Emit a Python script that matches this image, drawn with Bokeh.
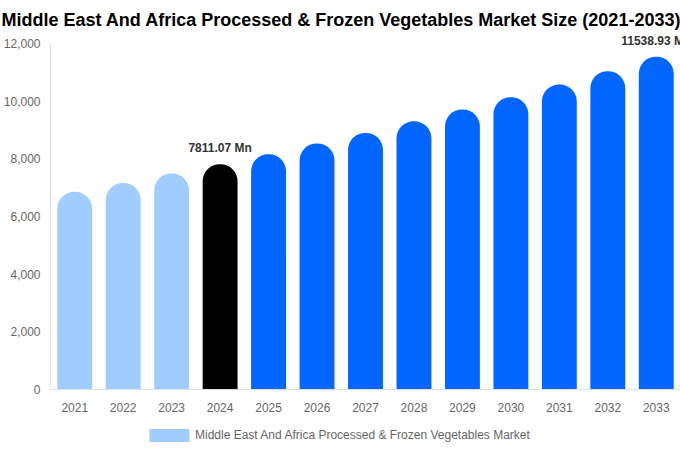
from bokeh.plotting import figure
from bokeh.models import ColumnDataSource, FactorRange, LabelSet, Legend, LegendItem, Span, NumeralTickFormatter
from bokeh.core.properties import value
from bokeh.embed import file_html
from bokeh.resources import INLINE

# market size by year, USD Mn
years = ["2021", "2022", "2023", "2024", "2025", "2026", "2027",
         "2028", "2029", "2030", "2031", "2032", "2033"]
values = [6855, 7165, 7490, 7811.07, 8160, 8530, 8900,
          9300, 9710, 10135, 10575, 11040, 11538.93]
colors = ["#a0cdfe"] * 3 + ["#000000"] + ["#0066ff"] * 9

label_years = ["2024", "2033"]
label_values = [7811.07, 11538.93]
label_texts = ["7811.07 Mn", "11538.93 Mn"]

y_ticks = [0, 2000, 4000, 6000, 8000, 10000, 12000]

FONT = "Liberation Sans"

# the frame runs down to the bottom of the canvas so that the year labels
# and the legend below the bars are not clipped
p = figure(x_range=FactorRange(*years, range_padding=0), y_range=(-2115, 12451),
           width=680, height=450, output_backend="svg", toolbar_location=None,
           x_axis_location=None,
           min_border_left=50, min_border_right=0, min_border_top=30, min_border_bottom=0)

p.title.text = "Middle East And Africa Processed & Frozen Vegetables Market Size (2021-2033)"
p.title.text_font = FONT
p.title.text_font_size = "18px"
p.title.text_font_style = "bold"
p.title.text_color = "#000000"
p.title.offset = -49
p.title.standoff = 1

p.outline_line_color = None
p.grid.grid_line_color = None

# bars with rounded tops
src = ColumnDataSource(dict(x=years, top=values, color=colors))
bars = p.vbar(x="x", top="top", width=0.72, source=src, fill_color="color",
              line_color=None, border_radius=[17, 17, 0, 0])

# baseline and year labels
p.add_layout(Span(location=0, dimension="width", line_color="#e0e0e0", line_width=1))
ysrc = ColumnDataSource(dict(x=years, y=[0] * len(years), t=years))
p.add_layout(LabelSet(x="x", y="y", text="t", source=ysrc, y_offset=-18,
                      text_align="center", text_baseline="middle",
                      text_font=value(FONT), text_font_size="12px", text_color="#666666"))

# value labels
lsrc = ColumnDataSource(dict(x=label_years, y=label_values, t=label_texts))
p.add_layout(LabelSet(x="x", y="y", text="t", source=lsrc, y_offset=12,
                      text_align="center", text_baseline="alphabetic",
                      text_font=value(FONT), text_font_size="12px", text_font_style="bold",
                      text_color="#333333"))

p.yaxis.axis_line_color = "#e0e0e0"
p.yaxis.major_tick_line_color = None
p.yaxis.minor_tick_line_color = None
p.yaxis.major_tick_out = 0
p.yaxis.major_tick_in = 0
p.yaxis.major_label_text_font = FONT
p.yaxis.major_label_text_font_size = "12px"
p.yaxis.major_label_text_color = "#666666"
p.yaxis.ticker = y_ticks
p.yaxis.bounds = (0, 12000)
p.yaxis.formatter = NumeralTickFormatter(format="0,0")
p.yaxis.major_label_standoff = 10

# bar swatches are drawn inset by 10% on every side, hence the larger glyph box
legend = Legend(items=[LegendItem(label="Middle East And Africa Processed & Frozen Vegetables Market",
                                  renderers=[bars], index=0)],
                orientation="horizontal", location=(94, 7),
                glyph_width=50, glyph_height=16, label_text_font=FONT,
                label_text_font_size="12px", label_text_color="#666666",
                border_line_color=None, background_fill_alpha=0,
                padding=4, margin=0, label_standoff=1)
p.add_layout(legend)

open("out.html", "w").write(file_html(p, INLINE))
